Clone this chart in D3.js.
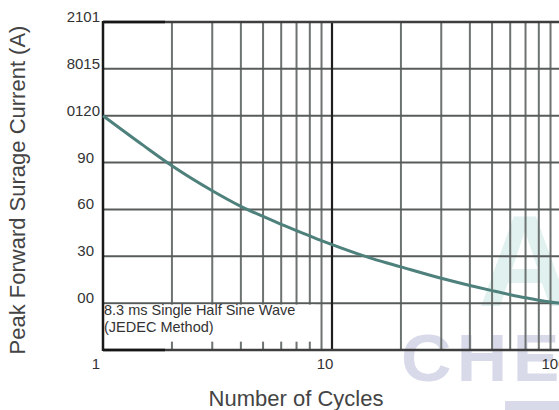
<!DOCTYPE html>
<html>
<head>
<meta charset="utf-8">
<script src="https://cdn.jsdelivr.net/npm/d3@7"></script>
<style>
  body { margin: 0; background: #fff; }
  svg { display: block; font-family: "Liberation Sans", Arial, sans-serif; }
</style>
</head>
<body>
<svg id="chart" width="559" height="410"></svg>
<script>
// values
var cycles  = [1, 1.5, 2, 3, 4, 5, 6, 7, 8, 9, 10, 15, 20, 30, 40, 50, 60, 70, 80, 90, 100];
var current = [120, 101, 88, 72, 62, 55.5, 50.5, 46.5, 43, 40, 37.5, 28.5, 23.2, 15.9, 11.3, 8, 5.4, 3.4, 1.9, 0.8, 0];

var xTickValues = [1, 10, 100];
var xTickLabels = ["1", "10", "100"];
var yTickValues = [0, 30, 60, 90, 120, 150, 180];
var yTickLabels = ["00", "30", "60", "90", "0120", "8015", "2101"];

var svg = d3.select("#chart"),
    plotLeft = 103, plotRight = 561, plotTop = 22, plotBottom = 350;

var x = d3.scaleLog().domain([1, 100]).range([plotLeft, plotRight]),
    y = d3.scaleLinear().domain([-30, 180]).range([plotBottom, plotTop]);

// watermark
svg.append("text")
    .attr("x", 478).attr("y", 306)
    .attr("font-size", 130).attr("font-weight", "bold")
    .attr("fill", "#e1f1ef")
    .text("A");
svg.append("text")
    .attr("transform", "translate(401,381) scale(1.06,1)")
    .attr("font-size", 66).attr("font-weight", "bold")
    .attr("letter-spacing", 5)
    .attr("fill", "#d8dae9")
    .text("CHE");
svg.append("rect")
    .attr("x", 505).attr("y", 401)
    .attr("width", 60).attr("height", 10)
    .attr("fill", "#d8dae9");

var g = svg.append("g");

// vertical grid
g.selectAll(".vgrid")
    .data(x.ticks().filter(function (d) { return d > 1 && d !== 10; }))
    .enter().append("line")
    .attr("class", "vgrid")
    .attr("x1", function (d) { return x(d); })
    .attr("x2", function (d) { return x(d); })
    .attr("y1", plotTop)
    .attr("y2", plotBottom)
    .attr("stroke", "#6d7371")
    .attr("stroke-width", 2);

// horizontal grid
g.selectAll(".hgrid")
    .data(yTickValues.slice(0, -1))
    .enter().append("line")
    .attr("class", "hgrid")
    .attr("x1", plotLeft)
    .attr("x2", plotRight)
    .attr("y1", function (d) { return y(d); })
    .attr("y2", function (d) { return y(d); })
    .attr("stroke", "#575c5b")
    .attr("stroke-width", 2);

// white box behind the note
g.append("rect")
    .attr("x", plotLeft + 1)
    .attr("y", y(0) + 1.5)
    .attr("width", 211)
    .attr("height", 37)
    .attr("fill", "#fff");

// frame
g.append("line")
    .attr("x1", x(10)).attr("x2", x(10))
    .attr("y1", plotTop).attr("y2", plotBottom)
    .attr("stroke", "#1e1e1e").attr("stroke-width", 2.2);
[plotTop, plotBottom].forEach(function (yy) {
  g.append("line")
      .attr("x1", plotLeft).attr("x2", plotRight)
      .attr("y1", yy).attr("y2", yy)
      .attr("stroke", "#3e3e3e").attr("stroke-width", 2.5);
  g.append("line")
      .attr("x1", plotLeft).attr("x2", plotLeft + 62)
      .attr("y1", yy).attr("y2", yy)
      .attr("stroke", "#151515").attr("stroke-width", 2.5);
});
g.append("line")
    .attr("x1", plotLeft).attr("x2", plotLeft)
    .attr("y1", plotTop - 1).attr("y2", plotBottom + 1)
    .attr("stroke", "#1a1a1a").attr("stroke-width", 2.5);

// curve
var line = d3.line()
    .x(function (d, i) { return x(cycles[i]); })
    .y(function (d) { return y(d); })
    .curve(d3.curveMonotoneX);

g.append("path")
    .datum(current)
    .attr("fill", "none")
    .attr("stroke", "#4e807c")
    .attr("stroke-width", 3)
    .attr("d", line);

// note
var note = g.append("text")
    .attr("font-size", 14.5)
    .attr("fill", "#333");
note.append("tspan").attr("x", plotLeft + 1).attr("y", 315).text("8.3 ms Single Half Sine Wave");
note.append("tspan").attr("x", plotLeft + 1).attr("y", 332).text("(JEDEC Method)");

// tick labels
g.selectAll(".xlabel")
    .data(xTickValues)
    .enter().append("text")
    .attr("class", "xlabel")
    .attr("x", function (d) { return x(d) - 7; })
    .attr("y", 369)
    .attr("text-anchor", "middle")
    .attr("font-size", 15)
    .attr("fill", "#333")
    .text(function (d, i) { return xTickLabels[i]; });

g.selectAll(".ylabel")
    .data(yTickValues)
    .enter().append("text")
    .attr("class", "ylabel")
    .attr("x", function (d, i) { return yTickLabels[i].length > 2 ? 100 : 94; })
    .attr("y", function (d) { return y(d); })
    .attr("text-anchor", "end")
    .attr("font-size", 15)
    .attr("fill", "#333")
    .text(function (d, i) { return yTickLabels[i]; });

// axis titles
svg.append("text")
    .attr("x", 296).attr("y", 406)
    .attr("text-anchor", "middle")
    .attr("font-size", 22)
    .attr("fill", "#444")
    .text("Number of Cycles");

svg.append("text")
    .attr("transform", "translate(25,190) rotate(-90)")
    .attr("text-anchor", "middle")
    .attr("font-size", 22)
    .attr("fill", "#444")
    .text("Peak Forward Surage Current (A)");
</script>
</body>
</html>
